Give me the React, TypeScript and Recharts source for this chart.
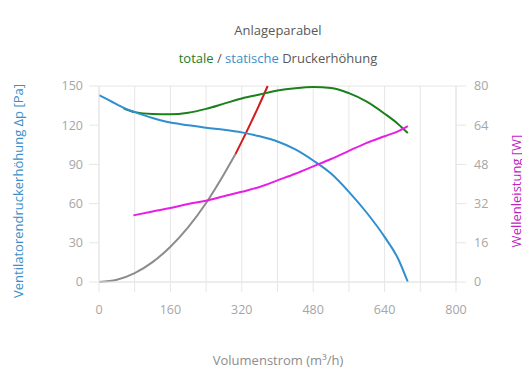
import React from 'react';
import { LineChart, Line, XAxis, YAxis, CartesianGrid } from 'recharts';

// Static pressure (blue) [m³/h, Pa]
const staticX = [0, 20, 40, 60, 80, 120, 160, 200, 240, 280, 320, 360, 400, 440, 480, 520, 560, 600, 640, 670, 692];
const staticY = [143, 139.5, 136, 132.5, 130, 125.5, 122, 120, 118, 116.5, 114.5, 111.5, 107.5, 101.5, 93, 83, 69, 53, 34.5, 18, 0];

// Total pressure (green)
const totalX = [55, 80, 120, 160, 200, 240, 280, 320, 360, 400, 440, 480, 520, 560, 600, 640, 670, 692];
const totalY = [133, 130, 128.5, 128.3, 129.5, 132.5, 136.5, 140.5, 143.5, 146.5, 148.3, 149.2, 148.5, 144.5, 138, 128.8, 121, 114];

// Shaft power (magenta) [W]
const powerX = [77, 120, 160, 200, 240, 280, 320, 360, 400, 440, 480, 520, 560, 600, 640, 670, 692];
const powerY = [27.2, 28.8, 30.2, 31.8, 33.2, 35, 36.8, 38.8, 41.5, 44.2, 47.2, 50.2, 53.5, 56.8, 59.5, 61.5, 63.6];

// System parabola (gray) and its operating segment (red)
const paraX = [0, 40, 80, 120, 160, 200, 240, 280, 306];
const paraY = [0, 1.7, 6.8, 15.2, 27, 42, 60.5, 82.5, 98];
const redX = [306, 330, 355, 378];
const redY = [98, 114.5, 132.5, 150];

const xTicks = [0, 80, 160, 240, 320, 400, 480, 560, 640, 720, 800];
const leftTicks = [0, 30, 60, 90, 120, 150];
const rightTicks = [0, 16, 32, 48, 64, 80];

const zip = (xs: number[], ys: number[]) => xs.map((x, i) => ({ x, y: ys[i] }));

const FONT = '"Open Sans", sans-serif';
const GRID = '#e6e6e6';
const TICK = { fill: '#a6a6a6', fontSize: 12.5, fontFamily: FONT };

export default function App() {
  return (
    <div style={{ position: 'relative', width: 522, height: 382, fontFamily: FONT }}>
      <LineChart width={522} height={382} margin={{ top: 78, right: 0, bottom: 68, left: 0 }}>
        <CartesianGrid stroke={GRID} />
        <XAxis
          type="number"
          dataKey="x"
          domain={[0, 800]}
          ticks={xTicks}
          tickFormatter={(v: number) => (v % 160 === 0 ? String(v) : '')}
          tick={TICK}
          tickLine={{ stroke: GRID }}
          axisLine={{ stroke: GRID }}
          tickSize={10}
          tickMargin={13}
          height={40}
          allowDataOverflow
        />
        <YAxis
          yAxisId="left"
          type="number"
          domain={[0, 150]}
          ticks={leftTicks}
          tick={TICK}
          tickLine={{ stroke: GRID }}
          axisLine={{ stroke: GRID }}
          tickSize={10}
          tickMargin={6}
          width={91}
        />
        <YAxis
          yAxisId="right"
          orientation="right"
          type="number"
          domain={[0, 80]}
          ticks={rightTicks}
          tick={TICK}
          tickLine={{ stroke: GRID }}
          axisLine={{ stroke: GRID }}
          tickSize={10}
          tickMargin={8}
          width={74}
        />
        <Line yAxisId="left" data={zip(paraX, paraY)} dataKey="y" type="monotone" stroke="#8c8c8c" strokeWidth={2} dot={false} isAnimationActive={false} />
        <Line yAxisId="left" data={zip(redX, redY)} dataKey="y" type="monotone" stroke="#d41a1a" strokeWidth={2} dot={false} isAnimationActive={false} />
        <Line yAxisId="left" data={zip(totalX, totalY)} dataKey="y" type="monotone" stroke="#1a801a" strokeWidth={2} dot={false} isAnimationActive={false} />
        <Line yAxisId="left" data={zip(staticX, staticY)} dataKey="y" type="monotone" stroke="#2f8fd0" strokeWidth={2} dot={false} isAnimationActive={false} />
        <Line yAxisId="right" data={zip(powerX, powerY)} dataKey="y" type="monotone" stroke="#e61ee6" strokeWidth={2} dot={false} isAnimationActive={false} />
      </LineChart>
      <svg width={522} height={382} style={{ position: 'absolute', left: 0, top: 0, pointerEvents: 'none' }} fontFamily={FONT} fontSize={13}>
        <text x={270} y={22} textAnchor="middle" dominantBaseline="central" fill="#595959">Anlageparabel</text>
        <text x={270} y={50} textAnchor="middle" dominantBaseline="central" fill="#595959">
          <tspan fill="#1e7d1e">totale</tspan>
          <tspan> / </tspan>
          <tspan fill="#3a8fc8">statische</tspan>
          <tspan> Druckerhöhung</tspan>
        </text>
        <text x={270} y={352} textAnchor="middle" dominantBaseline="central" fill="#8c8c8c">Volumenstrom (m³/h)</text>
        <text x={10} y={183} textAnchor="middle" dominantBaseline="central" fill="#3a8fc8" transform="rotate(-90 10 183)">
          Ventilatorendruckerhöhung Δp [Pa]
        </text>
        <text x={508} y={183} textAnchor="middle" dominantBaseline="central" fill="#c21ec2" transform="rotate(-90 508 183)">
          Wellenleistung [W]
        </text>
      </svg>
    </div>
  );
}
